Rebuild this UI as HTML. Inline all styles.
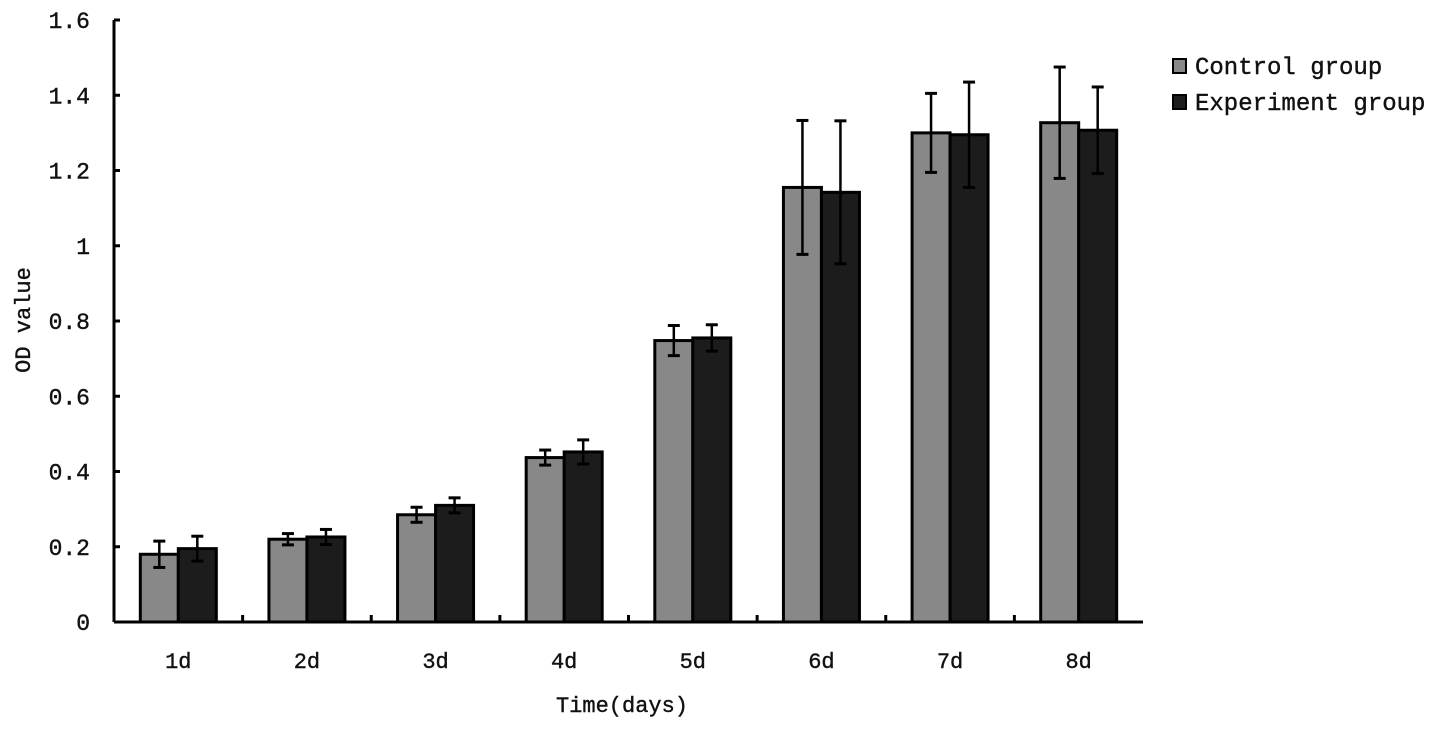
<!DOCTYPE html>
<html><head><meta charset="utf-8"><style>
body{margin:0;background:#fff}
svg text{font-family:"Liberation Mono","Noto Sans CJK SC",monospace;fill:#111;stroke:#111;stroke-width:0.4}
</style></head><body>
<svg width="1441" height="731" id="chart"></svg>
<script>
const categories=["1d","2d","3d","4d","5d","6d","7d","8d"];
const controlValues=[0.18,0.22,0.285,0.437,0.748,1.155,1.30,1.327];
const controlErrors=[0.035,0.015,0.02,0.02,0.04,0.178,0.105,0.148];
const experimentValues=[0.195,0.226,0.31,0.452,0.755,1.142,1.295,1.307];
const experimentErrors=[0.033,0.02,0.02,0.032,0.035,0.19,0.14,0.115];
const yTicks=[0,0.2,0.4,0.6,0.8,1,1.2,1.4,1.6];
const yTickLabels=["0","0.2","0.4","0.6","0.8","1","1.2","1.4","1.6"];

const svg=document.getElementById('chart');
const NS='http://www.w3.org/2000/svg';
const x0=114,x1=1143,yb=622,yt=20,ymax=1.6;
const y=v=>yb-(v/ymax)*(yb-yt);
const band=(x1-x0)/categories.length;
const cx=i=>x0+band*(i+0.5);
function mk(tag,attrs,parent){const e=document.createElementNS(NS,tag);for(const k in attrs)e.setAttribute(k,attrs[k]);(parent||svg).appendChild(e);return e;}

const bw=38;
function drawSeries(vals,errs,off,fill,name){
  vals.forEach((v,i)=>{
    const g=mk('g',{});
    
    
    const xl=cx(i)+off;
    mk('rect',{x:xl,y:y(v),width:bw,height:yb-y(v),fill:fill,stroke:'#000','stroke-width':3},g);
    const xm=xl+bw/2;
    mk('line',{x1:xm,x2:xm,y1:y(v+errs[i]),y2:y(v-errs[i]),stroke:'#000','stroke-width':2.5},g);
    mk('line',{x1:xm-6,x2:xm+6,y1:y(v+errs[i]),y2:y(v+errs[i]),stroke:'#000','stroke-width':3},g);
    mk('line',{x1:xm-6,x2:xm+6,y1:y(v-errs[i]),y2:y(v-errs[i]),stroke:'#000','stroke-width':3},g);
  });
}
drawSeries(controlValues,controlErrors,-bw,'#888','bar-control');
drawSeries(experimentValues,experimentErrors,0,'#1c1c1c','bar-experiment');

const ax=mk('line',{x1:x0,x2:x0,y1:yt,y2:yb,stroke:'#000','stroke-width':3});

const xa=mk('line',{x1:x0,x2:x1,y1:yb,y2:yb,stroke:'#000','stroke-width':3});

yTicks.forEach((t,i)=>{
  mk('line',{x1:x0,x2:x0+6,y1:y(t),y2:y(t),stroke:'#000','stroke-width':3});
  const tx=mk('text',{x:90,y:y(t)+8,'text-anchor':'end','font-size':23});
  tx.textContent=yTickLabels[i];
  
});
categories.forEach((c,i)=>{
  if(i>0)mk('line',{x1:x0+band*i,x2:x0+band*i,y1:yb-7,y2:yb,stroke:'#000','stroke-width':3});
  const tx=mk('text',{x:cx(i),y:668,'text-anchor':'middle','font-size':22});
  tx.textContent=c;
  
});
const xt=mk('text',{x:622,y:712,'text-anchor':'middle','font-size':22});
xt.textContent='Time(days)';

const yt2=mk('text',{x:30,y:320,'text-anchor':'middle','font-size':22,transform:'rotate(-90 30 320)'});
yt2.textContent='OD value';


[['Control group','#888',66],['Experiment group','#1c1c1c',102]].forEach(([t,f,ly])=>{
  const g=mk('g',{});
  
  
  mk('rect',{x:1173,y:ly-7,width:13,height:14,fill:f,stroke:'#000','stroke-width':2},g);
  const tx=mk('text',{x:1195,y:ly+8,'font-size':24},g);
  tx.textContent=t;
});
</script>
</body></html>
